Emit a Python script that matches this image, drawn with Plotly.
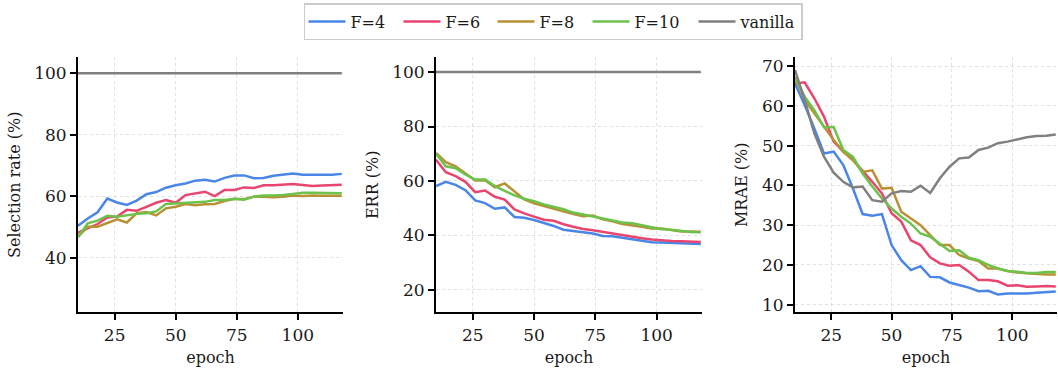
import plotly.graph_objects as go

epochs = list(range(10, 119, 4))

labels = ["F=4", "F=6", "F=8", "F=10", "vanilla"]
colors = ["#4a86e8", "#e8456f", "#b89134", "#6cc24a", "#808080"]

# Selection rate (%)
sel_f4 = [50.4, 52.8, 54.8, 59.3, 58.0, 57.2, 58.6, 60.7, 61.4, 62.8, 63.6, 64.2, 65.1, 65.4,
          64.8, 66.0, 66.8, 66.8, 65.9, 66.0, 66.7, 67.0, 67.4, 67.0, 67.0, 67.1, 67.0, 67.3]
sel_f6 = [48.2, 49.6, 51.0, 53.1, 53.4, 55.6, 55.3, 56.6, 57.9, 58.8, 57.9, 60.4, 61.0, 61.5,
          60.1, 62.1, 62.1, 62.9, 62.7, 63.6, 63.6, 63.7, 64.0, 63.7, 63.4, 63.5, 63.6, 63.8]
sel_f8 = [46.9, 50.1, 50.1, 51.2, 52.5, 51.5, 54.5, 54.9, 53.8, 56.1, 56.6, 57.5, 57.1, 57.4,
          57.5, 58.5, 59.1, 59.1, 59.9, 59.9, 59.7, 59.9, 60.3, 60.1, 60.3, 60.2, 60.2, 60.2]
sel_f10 = [46.7, 51.2, 52.1, 53.7, 53.4, 53.9, 54.3, 54.5, 55.1, 57.5, 57.7, 58.0, 58.2, 58.2,
           58.8, 58.8, 59.2, 58.9, 59.9, 60.3, 60.3, 60.4, 60.8, 61.2, 61.2, 61.2, 61.1, 61.0]
sel_van = [100.0] * 28

# ERR (%)
err_f4 = [58.1, 59.7, 58.6, 56.6, 52.9, 51.9, 49.8, 50.3, 46.8, 46.5, 45.7, 44.7, 43.5, 42.1,
          41.7, 41.2, 40.7, 39.8, 39.7, 39.2, 38.7, 38.1, 37.5, 37.4, 37.3, 37.2, 37.0, 36.9]
err_f6 = [67.8, 63.2, 61.8, 59.7, 55.9, 56.5, 54.2, 53.2, 49.6, 48.1, 46.9, 45.8, 45.4, 44.1,
          43.2, 42.4, 41.9, 41.3, 40.6, 40.0, 39.6, 39.0, 38.5, 38.2, 38.0, 37.9, 37.8, 37.6]
err_f8 = [70.3, 66.9, 65.4, 62.7, 60.2, 60.3, 57.7, 59.1, 56.3, 53.2, 51.8, 50.8, 49.9, 49.0,
          47.9, 47.1, 47.3, 45.9, 45.2, 44.2, 43.8, 43.2, 42.6, 42.6, 42.0, 41.5, 41.5, 41.4]
err_f10 = [70.0, 65.4, 64.7, 62.4, 60.5, 60.5, 58.1, 56.3, 54.7, 53.5, 52.6, 51.4, 50.5, 49.6,
           48.4, 47.7, 46.8, 46.2, 45.6, 44.8, 44.5, 43.7, 42.9, 42.3, 42.1, 41.7, 41.3, 41.2]
err_van = [100.0] * 28

# MRAE (%)
mrae_f4 = [65.6, 60.2, 54.3, 48.0, 48.5, 45.1, 39.2, 32.8, 32.4, 32.8, 25.0, 21.2, 18.7, 19.7,
           17.0, 16.9, 15.6, 14.9, 14.3, 13.4, 13.5, 12.6, 12.8, 12.8, 12.8, 13.0, 13.2, 13.3]
mrae_f6 = [65.6, 65.9, 61.9, 57.3, 51.0, 48.5, 46.4, 43.7, 40.9, 38.0, 33.0, 30.9, 26.2, 25.0,
           21.9, 20.4, 19.8, 20.0, 18.3, 16.2, 16.2, 15.9, 14.8, 14.9, 14.5, 14.6, 14.7, 14.6]
mrae_f8 = [67.3, 61.5, 58.1, 54.7, 51.4, 48.5, 46.4, 43.4, 43.8, 39.2, 39.4, 33.4, 31.7, 30.0,
           27.5, 25.0, 25.0, 22.5, 21.6, 21.0, 19.1, 19.1, 18.5, 18.1, 17.9, 17.7, 17.6, 17.6]
mrae_f10 = [66.9, 62.3, 58.9, 54.6, 54.7, 48.9, 47.2, 43.0, 39.7, 36.7, 34.2, 32.1, 30.4, 27.9,
            27.1, 25.4, 23.5, 23.7, 21.8, 21.2, 20.0, 19.1, 18.5, 18.3, 18.0, 18.0, 18.2, 18.2]
mrae_van = [69.0, 61.5, 53.1, 47.2, 43.2, 40.9, 39.5, 39.7, 36.3, 35.9, 38.0, 38.6, 38.4, 39.9,
            38.1, 41.8, 44.7, 46.8, 47.0, 48.9, 49.5, 50.6, 51.0, 51.6, 52.1, 52.4, 52.5, 52.8]

panels = [
    ([sel_f4, sel_f6, sel_f8, sel_f10, sel_van], "Selection rate (%)", [22.3, 105.2], [40, 60, 80, 100]),
    ([err_f4, err_f6, err_f8, err_f10, err_van], "ERR (%)", [11.8, 105.4], [20, 40, 60, 80, 100]),
    ([mrae_f4, mrae_f6, mrae_f8, mrae_f10, mrae_van], "MRAE (%)", [8.1, 72.2], [10, 20, 30, 40, 50, 60, 70]),
]

W, H = 1058, 371
xdoms = [(78, 343), (436, 702), (795, 1057)]
ydom = [1 - 312.3 / H, 1 - 57.3 / H]
legend_widths = [43, 42, 43, 54, None]
FONT = "DejaVu Serif"
TXT = "#1a1a1a"

fig = go.Figure()
layout = {}
for i, (series, ytitle, yrange, yticks) in enumerate(panels):
    n = "" if i == 0 else str(i + 1)
    for j, vals in enumerate(series):
        fig.add_trace(go.Scatter(
            x=epochs, y=vals, mode="lines", name=labels[j],
            line=dict(color=colors[j], width=2.5),
            xaxis="x" + n, yaxis="y" + n,
            showlegend=(i == 0), legendgroup=labels[j],
            legendwidth=legend_widths[j],
        ))
    axcommon = dict(
        showline=True, linecolor="black", linewidth=2,
        ticks="outside", ticklen=6, tickwidth=1.5, tickcolor="black",
        showgrid=True, gridcolor="#e0e0e0", gridwidth=1, griddash="dot",
        zeroline=False, tickfont=dict(family=FONT, size=17, color=TXT),
        mirror=False,
    )
    layout["xaxis" + n] = dict(
        axcommon, domain=[xdoms[i][0] / W, xdoms[i][1] / W], range=[10, 118.5],
        tickvals=[25, 50, 75, 100], anchor="y" + n,
        title=dict(text="epoch", font=dict(family=FONT, size=16, color=TXT), standoff=8),
    )
    layout["yaxis" + n] = dict(
        axcommon, domain=ydom, range=yrange, tickvals=yticks, anchor="x" + n,
        title=dict(text=ytitle, font=dict(family=FONT, size=16, color=TXT), standoff=10),
    )

fig.update_layout(
    **layout,
    width=W, height=H,
    margin=dict(l=0, r=0, t=0, b=0, autoexpand=False),
    paper_bgcolor="white", plot_bgcolor="white",
    font=dict(family=FONT, size=16, color=TXT),
    legend=dict(
        orientation="h", x=553 / W, xanchor="center", y=1 - 3 / H, yanchor="top",
        bordercolor="#cccccc", borderwidth=1.5, bgcolor="white",
        itemwidth=37,
        font=dict(family=FONT, size=16, color=TXT),
    ),
)

fig.write_html("out.html", config={"displayModeBar": False},
               post_script="document.body.style.margin='0';")
